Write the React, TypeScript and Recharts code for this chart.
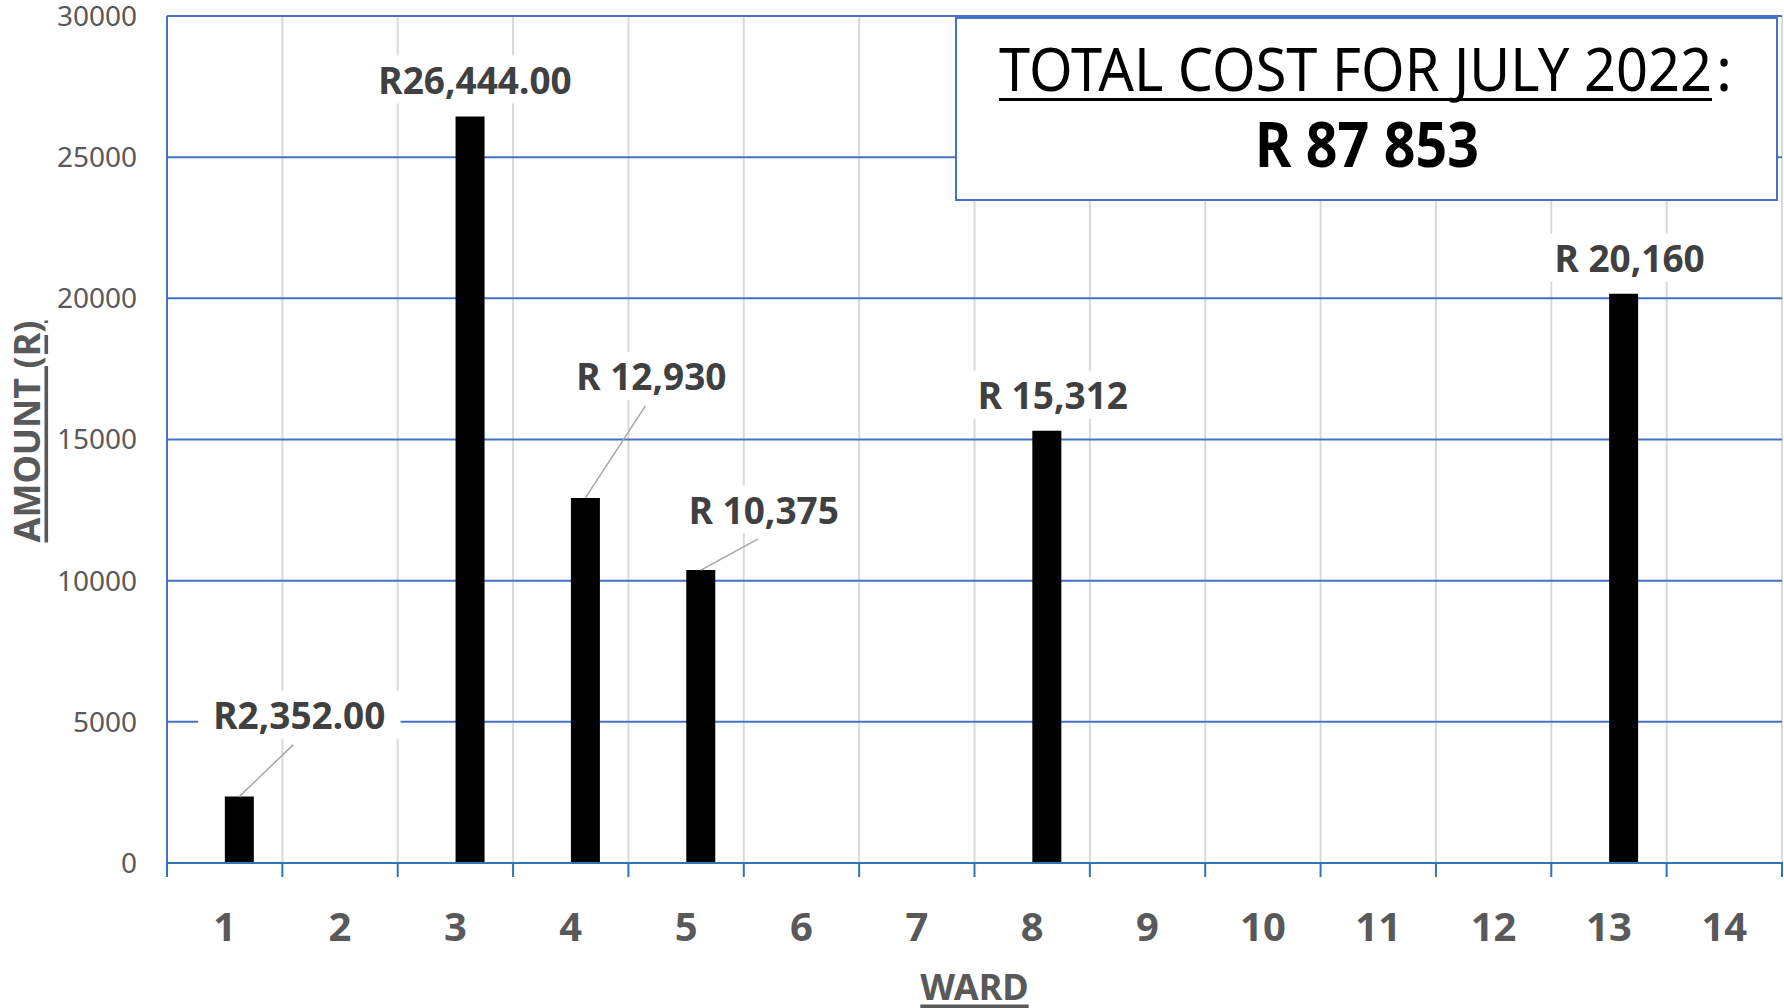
import React from 'react';
import { BarChart, Bar, XAxis, YAxis, CartesianGrid, LabelList } from 'recharts';

const wards = ['1', '2', '3', '4', '5', '6', '7', '8', '9', '10', '11', '12', '13', '14'];
const amounts = [2352, null, 26444, 12930, 10375, null, null, 15312, null, null, null, null, 20160, null];
const amountLabels = ['R2,352.00', '', 'R26,444.00', 'R 12,930', 'R 10,375', '', '', 'R 15,312', '', '', '', '', 'R 20,160', ''];
const yTicks = [0, 5000, 10000, 15000, 20000, 25000, 30000];
const totalTitle = 'TOTAL COST FOR JULY 2022';
const totalValue = 'R 87 853';

const data = wards.map((w, i) => ({ ward: w, blank: null, amount: amounts[i] }));

// label placement relative to bar top-centre, keyed by ward index
const labelPos: Record<number, { dx: number; dy: number; leader?: boolean }> = {
  0: { dx: 60, dy: -82, leader: true },
  2: { dx: 5, dy: -37 },
  3: { dx: 66, dy: -122, leader: true },
  4: { dx: 63, dy: -61, leader: true },
  7: { dx: 6, dy: -36 },
  12: { dx: 6, dy: -36 },
};

const W = 1784;
const H = 1008;
const M = { top: 16, right: 2, bottom: 0, left: 0 };
const Y_W = 167;
const X_H = 145;
const PLOT_W = W - M.left - M.right - Y_W;
const BAND = PLOT_W / wards.length;
const FONT = '"Noto Sans", "Open Sans", sans-serif';
const BLUE = '#4472C4';
const AXIS_BLUE = '#2E75B6';

const WardTick = (props: any) => {
  const { x, y, payload, index } = props;
  const base = y - 8;
  return (
    <g>
      <line x1={x - BAND / 2} x2={x - BAND / 2} y1={base - 1} y2={base + 14} stroke={AXIS_BLUE} strokeWidth={2} />
      {index === wards.length - 1 && (
        <line x1={x + BAND / 2} x2={x + BAND / 2} y1={base - 1} y2={base + 14} stroke={AXIS_BLUE} strokeWidth={2} />
      )}
      <text x={x} y={base + 62} textAnchor="middle" dominantBaseline="central" fill="#595959"
        fontSize={40} fontWeight={700} fontFamily={FONT}>
        {payload.value}
      </text>
    </g>
  );
};

const AmountLabel = (props: any) => {
  const { x, y, width, value } = props;
  const i = amounts.indexOf(value);
  const p = labelPos[i];
  const text = amountLabels[i];
  if (i < 0 || !p || !text) return null;
  const bx = x + width / 2;
  const cx = bx + p.dx;
  const cy = y + p.dy;
  const tw = text.length * 0.56 * 37;
  return (
    <g>
      {p.leader && <line x1={cx - 6} y1={cy + 30} x2={bx} y2={y} stroke="#A6A6A6" strokeWidth={1.5} />}
      <rect x={cx - tw / 2 - 8} y={cy - 24} width={tw + 16} height={48} fill="#ffffff" />
      <text x={cx} y={cy} textAnchor="middle" dominantBaseline="central" fill="#404040"
        fontSize={37} fontWeight={700} fontFamily={FONT}>
        {text}
      </text>
    </g>
  );
};

export default function App() {
  return (
    <div style={{ position: 'absolute', left: 0, top: 0, width: W, height: H, background: '#fff' }}>
      <BarChart width={W} height={H} data={data} margin={M} barCategoryGap="25%" barGap={0}>
        <CartesianGrid
          stroke="#D9D9D9"
          strokeWidth={2}
          horizontal={false}
          verticalCoordinatesGenerator={({ offset }: any) =>
            wards.map((_, i) => offset.left + (i + 1) * (offset.width / wards.length))
          }
        />
        <CartesianGrid stroke={BLUE} strokeWidth={2} vertical={false} />
        <XAxis
          dataKey="ward"
          height={X_H}
          axisLine={{ stroke: AXIS_BLUE, strokeWidth: 2 }}
          tickLine={false}
          tick={<WardTick />}
          interval={0}
          label={({ viewBox }: any) => (
            <text x={viewBox.x + viewBox.width / 2} y={viewBox.y + 123} textAnchor="middle"
              dominantBaseline="central" fill="#595959" fontSize={36} fontWeight={700}
              fontFamily={FONT} style={{ textDecoration: 'underline' }}>
              WARD
            </text>
          )}
        />
        <YAxis
          width={Y_W}
          domain={[0, 30000]}
          ticks={yTicks}
          interval={0}
          axisLine={{ stroke: BLUE, strokeWidth: 2 }}
          tickLine={false}
          tickMargin={24}
          tick={{ fill: '#595959', fontSize: 28, fontFamily: FONT }}
          label={({ viewBox }: any) => {
            const cx = 26;
            const cy = viewBox.y + viewBox.height / 2 - 8;
            return (
              <text x={cx} y={cy} transform={`rotate(-90 ${cx} ${cy})`} textAnchor="middle"
                dominantBaseline="central" fill="#595959" fontSize={36} fontWeight={700}
                fontFamily={FONT} style={{ textDecoration: 'underline' }}>
                AMOUNT (R)
              </text>
            );
          }}
        />
        <Bar dataKey="blank" fill="#000" isAnimationActive={false} />
        <Bar dataKey="amount" fill="#000000" isAnimationActive={false}>
          <LabelList dataKey="amount" content={<AmountLabel />} />
        </Bar>
      </BarChart>
      <svg style={{ position: 'absolute', left: 955, top: 17 }} width={825} height={186}>
        <rect x={1} y={1} width={821} height={182} fill="#fff" stroke={BLUE} strokeWidth={2} />
        <text x={44} y={74} textLength={713} lengthAdjust="spacingAndGlyphs" fill="#000"
          fontSize={60} fontFamily={FONT}>
          {totalTitle}
        </text>
        <rect x={44} y={81} width={713} height={3} fill="#000" />
        <text x={761} y={74} fill="#000" fontSize={60} fontFamily={FONT}>:</text>
        <text x={412} y={150} textAnchor="middle" textLength={224} lengthAdjust="spacingAndGlyphs"
          fill="#000" fontSize={62} fontWeight={700} fontFamily={FONT}>
          {totalValue}
        </text>
      </svg>
    </div>
  );
}
